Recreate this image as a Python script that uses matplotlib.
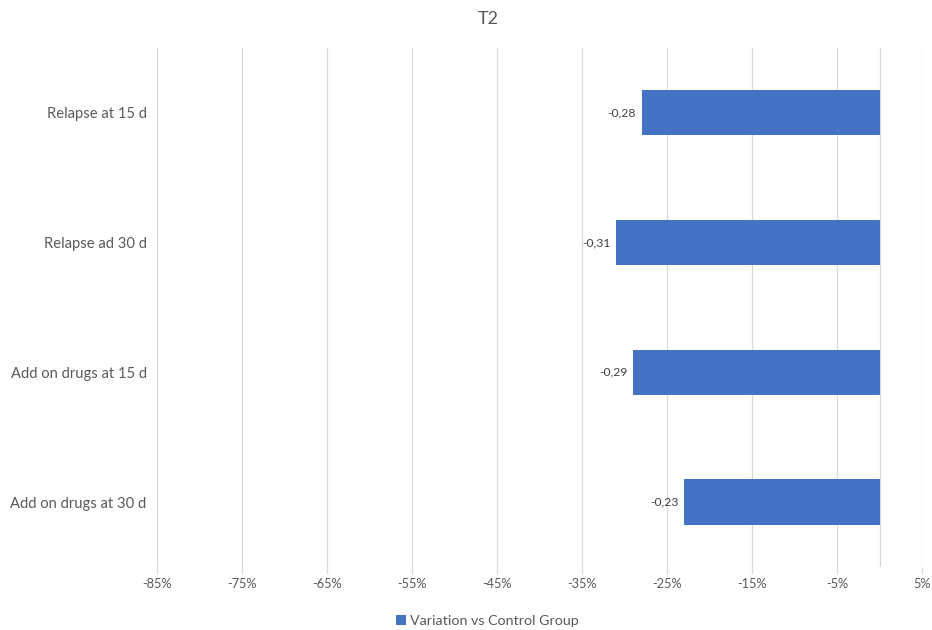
import matplotlib.pyplot as plt
from matplotlib.ticker import FuncFormatter

plt.rcParams['font.family'] = ['Lato', 'DejaVu Sans']

categories = ['Relapse at 15 d', 'Relapse ad 30 d', 'Add on drugs at 15 d', 'Add on drugs at 30 d']
values = [-0.28, -0.31, -0.29, -0.23]
series_name = 'Variation vs Control Group'
xticks = [-0.85, -0.75, -0.65, -0.55, -0.45, -0.35, -0.25, -0.15, -0.05, 0.05]

bar_color = '#4472c4'
text_color = '#595959'
grid_color = '#d9d9d9'

fig = plt.figure(figsize=(9.32, 6.30), dpi=100)
ax = fig.add_axes([0.1685, 0.10, 0.8208, 0.824])

y = list(range(len(categories)))
bars = ax.barh(y, values, height=0.35, color=bar_color, label=series_name, zorder=3)

# data labels sit just left of each bar end
for yi, v in zip(y, values):
    ax.annotate(f'{v:.2f}'.replace('.', ','), (v, yi), xytext=(-4, 0),
                textcoords='offset points', ha='right', va='center',
                fontsize=8.7, color='#404040')

ax.set_xlim(-0.85, 0.05)
ax.set_ylim(len(categories) - 0.5, -0.5)
ax.set_xticks(xticks)
ax.xaxis.set_major_formatter(FuncFormatter(lambda x, _: f'{x*100:.0f}%'))
ax.set_yticks(y)
ax.set_yticklabels(categories)

ax.grid(axis='x', color=grid_color, linewidth=0.9, zorder=0)
ax.axvline(0, color=grid_color, linewidth=0.9, zorder=1)

for s in ax.spines.values():
    s.set_visible(False)

ax.tick_params(axis='x', colors=grid_color, labelcolor=text_color, labelsize=9.2,
               length=5, width=0.9, pad=3)
ax.tick_params(axis='y', length=0, labelcolor=text_color, labelsize=10.6, pad=7.5)

fig.suptitle('T2', x=0.5235, y=0.983, fontsize=13, color=text_color)

fig.legend(loc='lower center', bbox_to_anchor=(0.523, -0.016), ncol=1, frameon=False,
           fontsize=10.3, labelcolor=text_color, handlelength=0.7, handleheight=0.7,
           handletextpad=0.3)

fig.savefig('out.png', dpi=100)
